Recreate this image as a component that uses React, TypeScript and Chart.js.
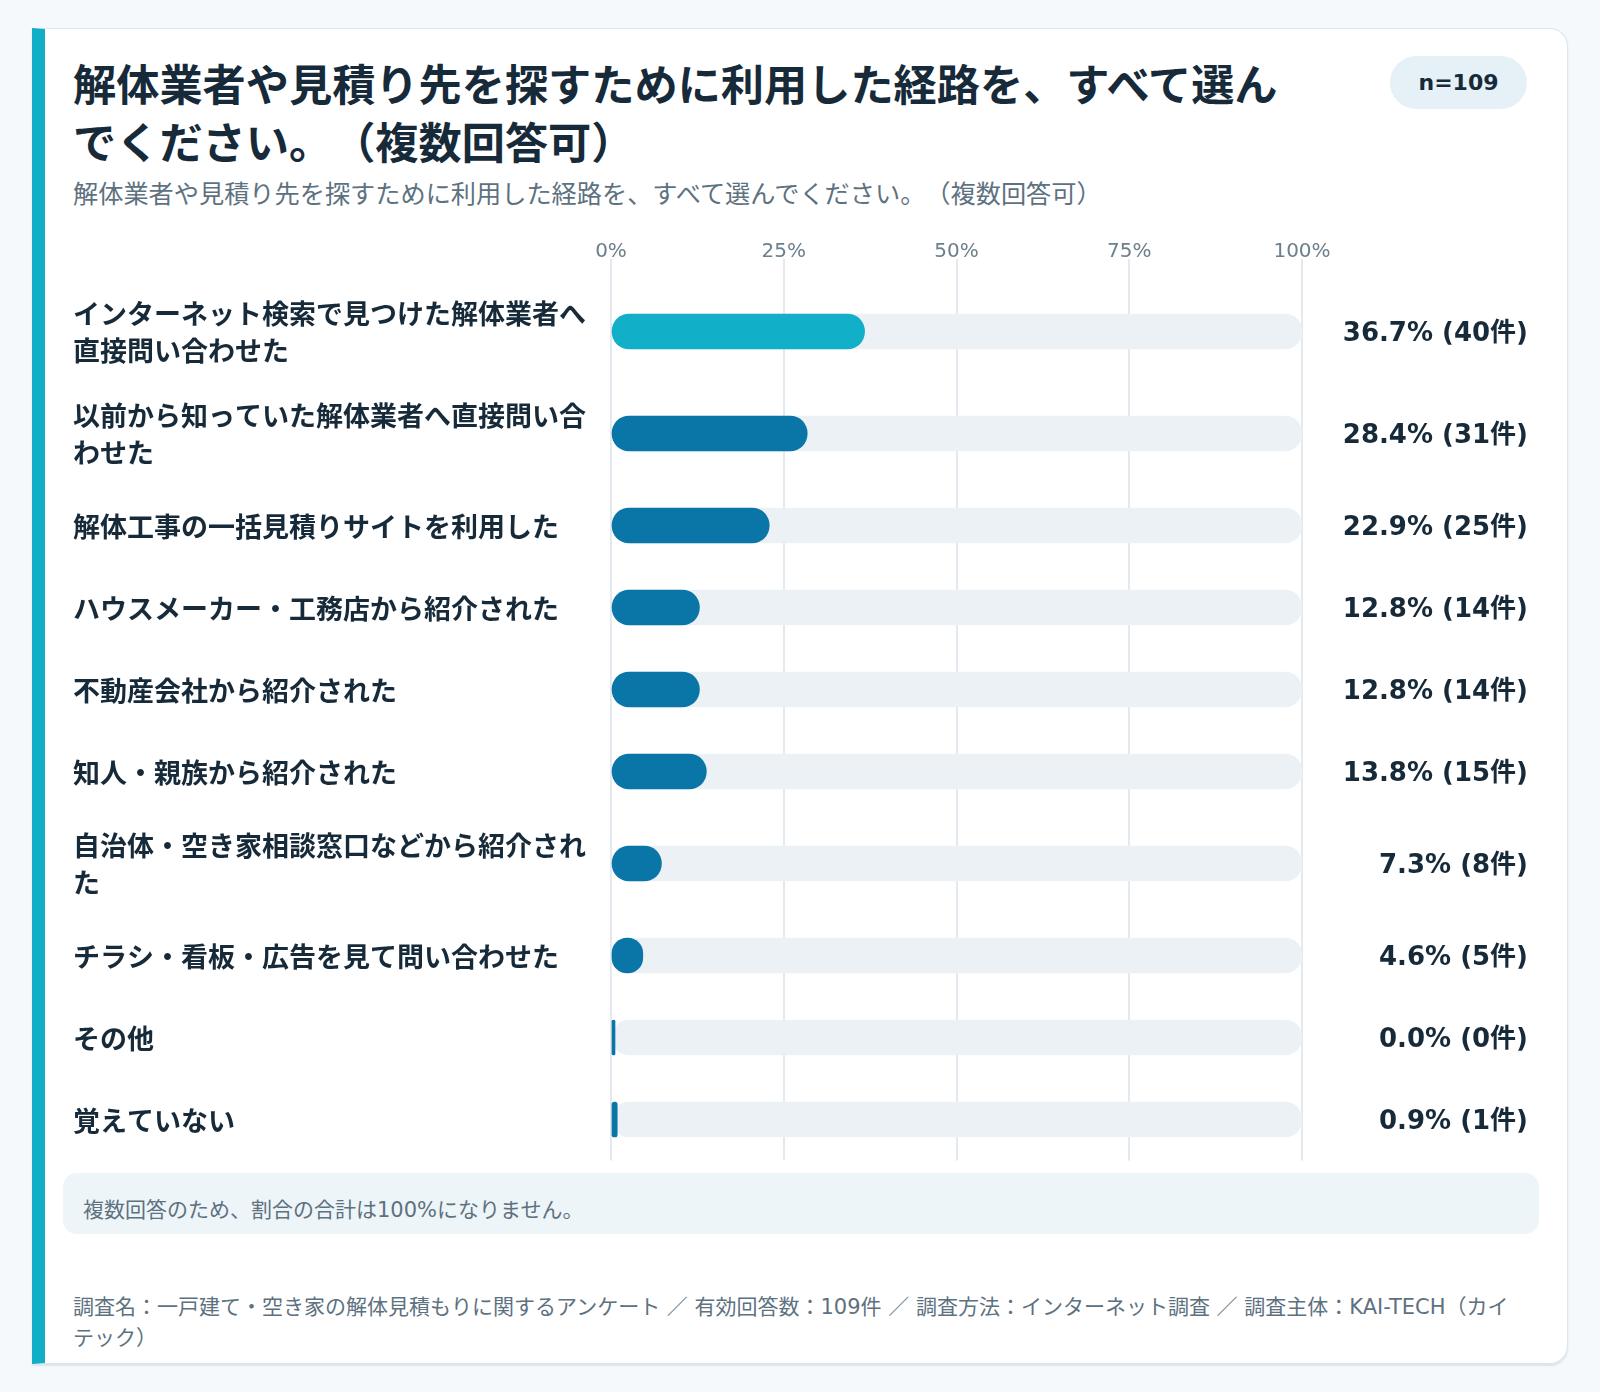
import React, { useEffect, useRef } from "react";
import { Chart, registerables } from "chart.js";

Chart.register(...registerables);

// ---- data ----
const titleText = "解体業者や見積り先を探すために利用した経路を、すべて選んでください。（複数回答可）";
const subtitleText = "解体業者や見積り先を探すために利用した経路を、すべて選んでください。（複数回答可）";
const sampleLabel = "n=109";
const categories: string[][] = [
  ["インターネット検索で見つけた解体業者へ", "直接問い合わせた"],
  ["以前から知っていた解体業者へ直接問い合", "わせた"],
  ["解体工事の一括見積りサイトを利用した"],
  ["ハウスメーカー・工務店から紹介された"],
  ["不動産会社から紹介された"],
  ["知人・親族から紹介された"],
  ["自治体・空き家相談窓口などから紹介され", "た"],
  ["チラシ・看板・広告を見て問い合わせた"],
  ["その他"],
  ["覚えていない"],
];
const percentages = [36.7, 28.4, 22.9, 12.8, 12.8, 13.8, 7.3, 4.6, 0.0, 0.9];
const counts = [40, 31, 25, 14, 14, 15, 8, 5, 0, 1];
const xTickValues = [0, 25, 50, 75, 100];
const scaleMax = 100;
const noteText = "複数回答のため、割合の合計は100%になりません。";
const footerText =
  "調査名：一戸建て・空き家の解体見積もりに関するアンケート ／ 有効回答数：109件 ／ 調査方法：インターネット調査 ／ 調査主体：KAI-TECH（カイテック）";

// ---- style ----
const FONT = '"DejaVu Sans", "Noto Sans CJK JP", sans-serif';
const C_TEXT = "#172a39";
const C_MUTED = "#5d717f";
const C_TICK = "#6b7f8c";
const C_GRID = "#e3e9ee";
const C_TRACK = "#ecf1f5";
const C_HIGHLIGHT = "#11afc8";
const C_BAR = "#0a76a8";
const C_ACCENT = "#12aec8";

// row height grows with the number of label lines
const ROW_BASE = 62;
const ROW_PER_LINE = 20;

function rowLayout() {
  const centers: number[] = [];
  let acc = 0;
  categories.forEach((lines) => {
    const h = ROW_BASE + ROW_PER_LINE * lines.length;
    centers.push(acc + h / 2);
    acc += h;
  });
  return { centers, total: acc };
}

const valueLabelPlugin = {
  id: "valueLabels",
  afterDatasetsDraw(chart: any) {
    const meta = chart.getDatasetMeta(0);
    const ctx = chart.ctx;
    ctx.save();
    ctx.font = `bold 26px ${FONT}`;
    ctx.fillStyle = C_TEXT;
    ctx.textAlign = "right";
    ctx.textBaseline = "middle";
    meta.data.forEach((el: any, i: number) => {
      ctx.fillText(`${percentages[i].toFixed(1)}% (${counts[i]}件)`, chart.width, el.y + 3);
    });
    ctx.restore();
  },
};

function BarChart() {
  const ref = useRef<HTMLCanvasElement | null>(null);
  useEffect(() => {
    if (!ref.current) return;
    const { centers, total } = rowLayout();
    const maxIdx = percentages.indexOf(Math.max(...percentages));
    const chart = new Chart(ref.current, {
      type: "bar",
      data: {
        datasets: [
          {
            label: "割合",
            data: percentages.map((v, i) => ({ x: v, y: centers[i] })),
            backgroundColor: percentages.map((_, i) => (i === maxIdx ? C_HIGHLIGHT : C_BAR)),
            barThickness: 35,
            maxBarThickness: 35,
            borderRadius: 18,
            borderSkipped: false,
            minBarLength: 4,
            grouped: false,
            order: 0,
          } as any,
          {
            label: "track",
            data: percentages.map((_, i) => ({ x: scaleMax, y: centers[i] })),
            backgroundColor: C_TRACK,
            barThickness: 35,
            maxBarThickness: 35,
            borderRadius: 18,
            borderSkipped: false,
            grouped: false,
            order: 1,
          } as any,
        ],
      },
      options: {
        responsive: false,
        animation: false,
        indexAxis: "y",
        layout: { padding: { top: 0, right: 226, bottom: 7.5, left: 0 } },
        plugins: { legend: { display: false }, tooltip: { enabled: false } },
        scales: {
          x: {
            type: "linear",
            position: "top",
            min: 0,
            max: scaleMax,
            afterBuildTicks: (axis: any) => {
              axis.ticks = xTickValues.map((v) => ({ value: v }));
            },
            afterFit: (axis: any) => {
              axis.height = 42.5;
            },
            ticks: {
              callback: (v: any) => `${v}%`,
              color: C_TICK,
              font: { family: FONT, size: 20 },
              padding: -5,
              maxRotation: 0,
              autoSkip: false,
            },
            grid: { color: C_GRID, lineWidth: 2, drawTicks: true, tickLength: 21.5, tickColor: C_GRID },
            border: { display: false },
          },
          y: {
            type: "linear",
            reverse: true,
            offset: false,
            min: 0,
            max: total,
            afterBuildTicks: (axis: any) => {
              axis.ticks = centers.map((v) => ({ value: v }));
            },
            afterFit: (axis: any) => {
              axis.width = 538;
              axis.paddingTop = 0;
              axis.paddingBottom = 0;
            },
            ticks: {
              callback: (_v: any, i: number) => categories[i],
              crossAlign: "far",
              color: C_TEXT,
              font: { family: FONT, size: 27, weight: "bold", lineHeight: 37 / 27 },
              autoSkip: false,
              padding: 0,
              labelOffset: 4,
            },
            grid: { display: false },
            border: { display: false },
          },
        },
      } as any,
      plugins: [valueLabelPlugin],
    });
    return () => chart.destroy();
  }, []);
  return <canvas ref={ref} width={1455} height={930} style={{ display: "block" }} />;
}

export default function App() {
  return (
    <div
      style={
        {
          position: "relative",
          width: 1600,
          height: 1392,
          background: "#f5f9fc",
          fontFamily: FONT,
          textSpacingTrim: "space-all",
        } as any
      }
    >
      <style>{`body{margin:0;background:#f5f9fc;}`}</style>
      <div
        style={{
          position: "absolute",
          left: 32,
          top: 28,
          width: 1536,
          height: 1336,
          boxSizing: "border-box",
          background: "#ffffff",
          border: "1px solid #dbe5ec",
          borderLeft: `13px solid ${C_ACCENT}`,
          borderRadius: "0 18px 18px 0",
          boxShadow: "0 2px 2px rgba(170,190,205,0.35)",
        }}
      >
        <div
          style={{
            position: "absolute",
            left: 28,
            top: 28,
            width: 1225,
            fontSize: 43.2,
            lineHeight: "58px",
            fontWeight: 700,
            color: C_TEXT,
          }}
        >
          {titleText}
        </div>
        <div
          style={{
            position: "absolute",
            left: 1345,
            top: 27,
            width: 137,
            height: 53,
            borderRadius: 27,
            background: "#e5f1f6",
            color: C_TEXT,
            fontSize: 22,
            fontWeight: 700,
            display: "flex",
            alignItems: "center",
            justifyContent: "center",
          }}
        >
          {sampleLabel}
        </div>
        <div
          style={{
            position: "absolute",
            left: 28,
            top: 149,
            fontSize: 25.2,
            lineHeight: "34px",
            color: C_MUTED,
            whiteSpace: "nowrap",
          }}
        >
          {subtitleText}
        </div>
        <div style={{ position: "absolute", left: 28, top: 209 }}>
          <BarChart />
        </div>
        <div
          style={{
            position: "absolute",
            left: 18,
            top: 1144,
            width: 1476,
            height: 61,
            boxSizing: "border-box",
            borderRadius: 14,
            background: "#eef5f9",
            color: C_MUTED,
            fontSize: 21,
            lineHeight: "30px",
            paddingLeft: 20,
            paddingTop: 22,
          }}
        >
          {noteText}
        </div>
        <div
          style={{
            position: "absolute",
            left: 28,
            top: 1263,
            width: 1455,
            fontSize: 21,
            lineHeight: "31px",
            color: C_MUTED,
          }}
        >
          {footerText}
        </div>
      </div>
    </div>
  );
}
